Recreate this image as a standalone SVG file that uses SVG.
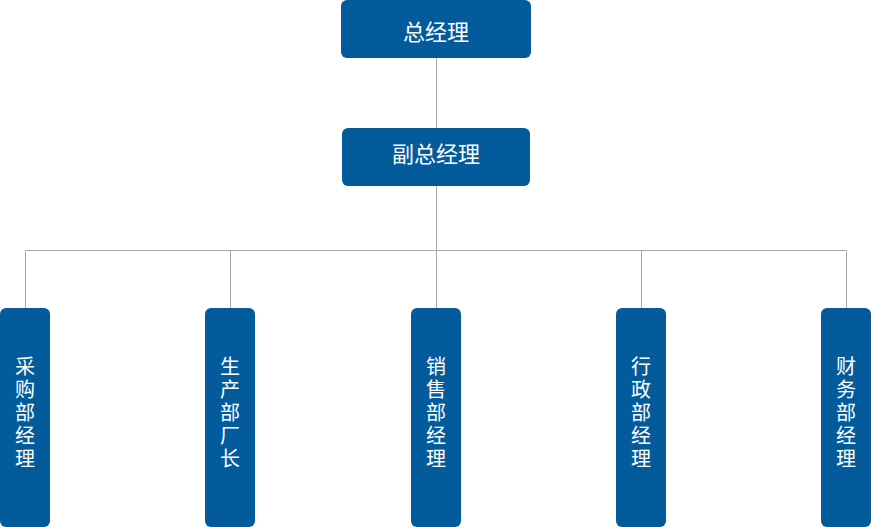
<svg xmlns="http://www.w3.org/2000/svg" width="871" height="527" viewBox="0 0 871 527">
<style>
.box{fill:#035b9b}
.t{fill:#fff;font-family:"Noto Sans CJK SC","Noto Sans",sans-serif;font-size:20px;text-anchor:middle}
.h{font-size:22px}
.ln{stroke:#a8a8a8;stroke-width:1;fill:none}
</style>
<rect width="871" height="527" fill="#fff"/>
<g id="connectors">
<path class="ln" d="M436.5 58V128M436.5 186V250.5M25.5 250.5H846.5M25.5 250.5V308M230.5 250.5V308M436.5 250.5V308M641.5 250.5V308M846.5 250.5V308"/>
</g>
<g id="gm"><rect class="box" x="341" y="0" width="190" height="58" rx="6"/><text class="t h" x="436" y="39.5">总经理</text></g>
<g id="vgm"><rect class="box" x="342" y="128" width="188" height="58" rx="6"/><text class="t h" x="436" y="161.5">副总经理</text></g>
<g id="n1"><rect class="box" x="0" y="308" width="50" height="219" rx="6"/><text class="t" x="25"><tspan x="25" y="374">采</tspan><tspan x="25" y="397">购</tspan><tspan x="25" y="420">部</tspan><tspan x="25" y="443">经</tspan><tspan x="25" y="466">理</tspan></text></g>
<g id="n2"><rect class="box" x="205" y="308" width="50" height="219" rx="6"/><text class="t" x="230"><tspan x="230" y="374">生</tspan><tspan x="230" y="397">产</tspan><tspan x="230" y="420">部</tspan><tspan x="230" y="443">厂</tspan><tspan x="230" y="466">长</tspan></text></g>
<g id="n3"><rect class="box" x="411" y="308" width="50" height="219" rx="6"/><text class="t" x="436"><tspan x="436" y="374">销</tspan><tspan x="436" y="397">售</tspan><tspan x="436" y="420">部</tspan><tspan x="436" y="443">经</tspan><tspan x="436" y="466">理</tspan></text></g>
<g id="n4"><rect class="box" x="616" y="308" width="50" height="219" rx="6"/><text class="t" x="641"><tspan x="641" y="374">行</tspan><tspan x="641" y="397">政</tspan><tspan x="641" y="420">部</tspan><tspan x="641" y="443">经</tspan><tspan x="641" y="466">理</tspan></text></g>
<g id="n5"><rect class="box" x="821" y="308" width="50" height="219" rx="6"/><text class="t" x="846"><tspan x="846" y="374">财</tspan><tspan x="846" y="397">务</tspan><tspan x="846" y="420">部</tspan><tspan x="846" y="443">经</tspan><tspan x="846" y="466">理</tspan></text></g>
</svg>
